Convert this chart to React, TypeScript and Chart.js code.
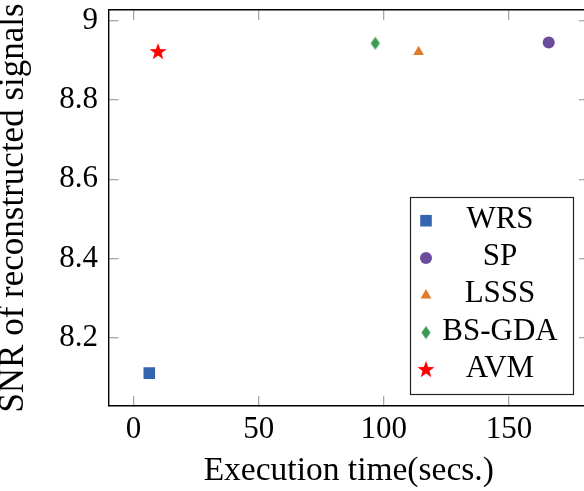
import React, { useEffect, useRef } from 'react';
import { Chart, registerables } from 'chart.js';
import { drawPoint } from 'chart.js/helpers';

Chart.register(...registerables);

// ---- data ----
const methods = ['WRS', 'SP', 'LSSS', 'BS-GDA', 'AVM'];
const execTimes = [6.3, 165.9, 113.9, 96.6, 9.8];
const snrValues = [8.111, 8.945, 8.921, 8.943, 8.921];
const xTicks = [0, 50, 100, 150];
const yTicks = [8.2, 8.4, 8.6, 8.8, 9];
const xLabel = 'Execution time(secs.)';
const yLabel = 'SNR of reconstructed signals';
const colors = ['#3465b0', '#6a4c9c', '#e07b2c', '#3b9a53', '#ff0000'];

const FONT = '"Liberation Serif", "Times New Roman", serif';

function makeStar(color: string, R: number): HTMLCanvasElement {
  const c = document.createElement('canvas');
  const s = Math.ceil(R * 2 + 2);
  c.width = s;
  c.height = s;
  const g = c.getContext('2d')!;
  const cx = s / 2, cy = s / 2;
  const r = R * 0.4;
  g.beginPath();
  for (let k = 0; k < 10; k++) {
    const rad = k % 2 === 0 ? R : r;
    const a = -Math.PI / 2 + (k * Math.PI) / 5;
    const px = cx + rad * Math.cos(a);
    const py = cy + rad * Math.sin(a);
    if (k === 0) g.moveTo(px, py); else g.lineTo(px, py);
  }
  g.closePath();
  g.fillStyle = color;
  g.fill();
  return c;
}

function makeDiamond(color: string, hw: number, hh: number): HTMLCanvasElement {
  const c = document.createElement('canvas');
  const w = Math.ceil(hw * 2 + 2), h = Math.ceil(hh * 2 + 2);
  c.width = w;
  c.height = h;
  const g = c.getContext('2d')!;
  const cx = w / 2, cy = h / 2;
  g.beginPath();
  g.moveTo(cx, cy - hh);
  g.lineTo(cx + hw, cy);
  g.lineTo(cx, cy + hh);
  g.lineTo(cx - hw, cy);
  g.closePath();
  g.fillStyle = color;
  g.fill();
  return c;
}

const boxLegend = {
  id: 'boxLegend',
  afterDraw(chart: any, _args: any, opts: any) {
    const { ctx } = chart;
    const { x, y, w, h, rowStart, rowStep, markerX, textX } = opts;
    ctx.save();
    ctx.fillStyle = '#ffffff';
    ctx.fillRect(x, y, w, h);
    ctx.strokeStyle = '#222222';
    ctx.lineWidth = 1.2;
    ctx.strokeRect(x + 0.5, y + 0.5, w, h);
    chart.data.datasets.forEach((ds: any, i: number) => {
      const cy = y + rowStart + i * rowStep;
      ctx.fillStyle = ds.backgroundColor;
      ctx.strokeStyle = ds.borderColor;
      drawPoint(ctx, { pointStyle: ds.pointStyle, radius: ds.pointRadius, borderWidth: 0, rotation: 0 }, x + markerX, cy);
      ctx.fillStyle = '#000000';
      ctx.font = `31px ${FONT}`;
      ctx.textAlign = 'center';
      ctx.textBaseline = 'middle';
      ctx.fillText(ds.label, x + textX, cy - 1);
    });
    ctx.restore();
  },
};

const noPad = (s: any) => {
  s.paddingTop = 0;
  s.paddingBottom = 0;
  s.paddingLeft = 0;
  s.paddingRight = 0;
};

export default function App() {
  const ref = useRef<HTMLCanvasElement | null>(null);

  useEffect(() => {
    if (!ref.current) return;
    const styles: any[] = [
      'rect',
      'circle',
      'triangle',
      makeDiamond(colors[3], 4.6, 6.6),
      makeStar(colors[4], 9),
    ];
    const radii = [8.2, 6, 6.2, 6, 9];

    const datasets = methods.map((m, i) => ({
      label: m,
      data: [{ x: execTimes[i], y: snrValues[i] }],
      backgroundColor: colors[i],
      borderColor: colors[i],
      borderWidth: 0,
      pointStyle: styles[i],
      pointRadius: radii[i],
      showLine: false,
    }));

    const tickMarks = { drawOnChartArea: false, drawTicks: true, tickLength: -10, color: '#a8a8a8', lineWidth: 1.3 };
    const border = { color: '#000000', width: 1.4 };

    const chart = new Chart(ref.current, {
      type: 'scatter',
      data: { datasets },
      plugins: [boxLegend],
      options: {
        animation: false,
        responsive: false,
        events: [],
        layout: { padding: { left: 0, top: 10, right: 11, bottom: 0 } },
        plugins: {
          legend: { display: false },
          tooltip: { enabled: false },
          boxLegend: { x: 410, y: 197, w: 163, h: 197, rowStart: 23.7, rowStep: 37.3, markerX: 16, textX: 90 },
        } as any,
        scales: {
          x: {
            type: 'linear',
            position: 'bottom',
            min: -10,
            max: 182,
            afterBuildTicks: (s: any) => { s.ticks = xTicks.map((v) => ({ value: v })); },
            afterFit: (s: any) => { s.height = 85; noPad(s); },
            grid: tickMarks,
            border,
            ticks: { color: '#000', font: { family: FONT, size: 31 }, padding: 15, autoSkip: false, maxRotation: 0, callback: (v: any) => String(v) },
            title: { display: true, text: xLabel, color: '#000', font: { family: FONT, size: 33.5 }, padding: { top: 0, bottom: -0.6 } },
          },
          x2: {
            type: 'linear',
            position: 'top',
            min: -10,
            max: 182,
            afterBuildTicks: (s: any) => { s.ticks = xTicks.map((v) => ({ value: v })); },
            afterFit: (s: any) => { s.height = 0; noPad(s); },
            grid: tickMarks,
            border,
            ticks: { display: false },
          },
          y: {
            type: 'linear',
            position: 'left',
            min: 8.028,
            max: 9.027,
            afterBuildTicks: (s: any) => { s.ticks = yTicks.map((v) => ({ value: v })); },
            afterFit: (s: any) => { s.width = 108.5; noPad(s); },
            grid: tickMarks,
            border,
            ticks: { color: '#000', font: { family: FONT, size: 31 }, padding: 20.5, autoSkip: false, callback: (v: any) => String(v) },
            title: { display: true, text: yLabel, color: '#000', font: { family: FONT, size: 35 }, padding: { top: -7.6, bottom: 0 } },
          },
          y2: {
            type: 'linear',
            position: 'right',
            min: 8.028,
            max: 9.027,
            afterBuildTicks: (s: any) => { s.ticks = yTicks.map((v) => ({ value: v })); },
            afterFit: (s: any) => { s.width = 0; noPad(s); },
            grid: tickMarks,
            border,
            ticks: { display: false },
          },
        },
      } as any,
    });
    return () => chart.destroy();
  }, []);

  return (
    <div style={{ position: 'fixed', left: 0, top: 0, width: 584, height: 491, overflow: 'hidden', background: '#fff' }}>
      <canvas ref={ref} width={600} height={491} style={{ display: 'block' }} />
    </div>
  );
}
